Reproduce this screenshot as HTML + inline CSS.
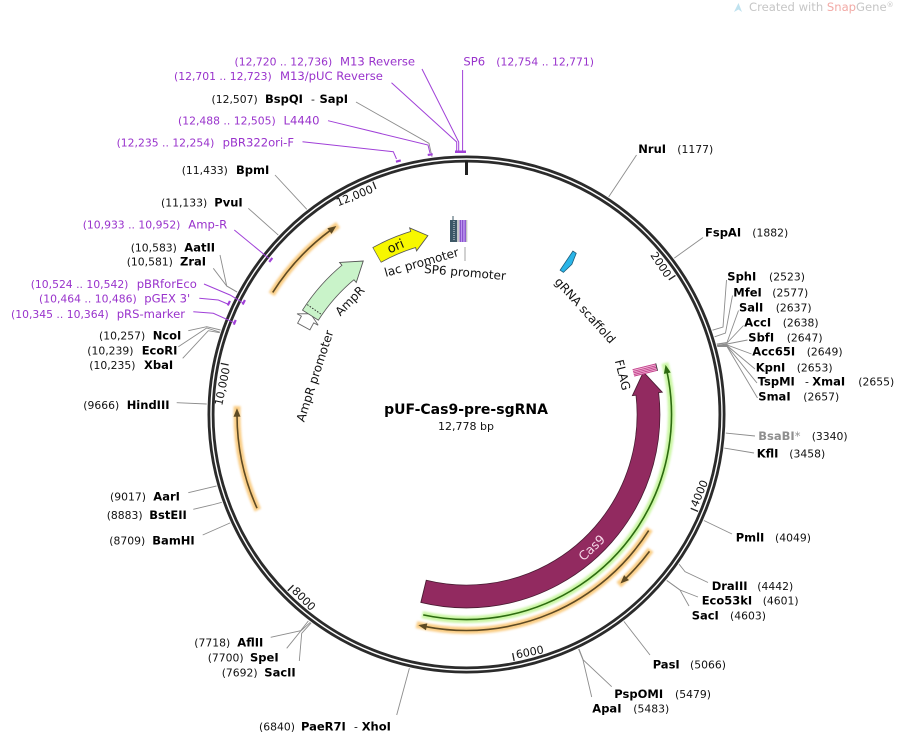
<!DOCTYPE html>
<html><head><meta charset="utf-8">
<style>
html,body{margin:0;padding:0;background:#fff;}
svg{display:block;font-family:"DejaVu Sans","Liberation Sans",sans-serif;}
.n{font-size:10.8px;fill:#111;}
.e{font-size:11.5px;font-weight:bold;fill:#000;}
.pn{font-size:10.8px;fill:#9933cc;}
.pe{font-size:11.6px;fill:#9933cc;}
.l{stroke:#8c8c8c;stroke-width:0.9;fill:none;}
.pl{stroke:#a040d8;stroke-width:1;fill:none;}
.f{font-size:12px;fill:#111;}
.tk{font-size:11px;fill:#111;}
.arc{fill:none;}
</style></head><body>
<svg width="899" height="735" viewBox="0 0 899 735" xmlns="http://www.w3.org/2000/svg">
<defs>
<filter id="bl" x="-20%" y="-20%" width="140%" height="140%"><feGaussianBlur stdDeviation="1"/></filter>
</defs>

<!-- watermark -->
<polygon points="734,12 738.5,3 742,12 738.5,9.5" fill="#bfe2ef"/>
<text x="749" y="11" font-size="11.6" fill="#c6c6c6">Created with <tspan fill="#f2aaa6">Snap</tspan>Gene<tspan font-size="7" dy="-4">®</tspan></text>

<!-- backbone -->
<circle cx="466.5" cy="414.5" r="257.6" fill="none" stroke="#2b2b2b" stroke-width="2.8"/>
<circle cx="466.5" cy="414.5" r="253.4" fill="none" stroke="#2b2b2b" stroke-width="2.8"/>
<rect x="465" y="161" width="3" height="14" fill="#222"/>

<!-- ticks -->
<g stroke="#222" stroke-width="1.3">
<line x1="466.5" y1="163.5" x2="466.5" y2="171.5" transform="rotate(56.35 466.5 414.5)"/>
<line x1="466.5" y1="163.5" x2="466.5" y2="171.5" transform="rotate(112.7 466.5 414.5)"/>
<line x1="466.5" y1="163.5" x2="466.5" y2="171.5" transform="rotate(169.05 466.5 414.5)"/>
<line x1="466.5" y1="163.5" x2="466.5" y2="171.5" transform="rotate(225.4 466.5 414.5)"/>
<line x1="466.5" y1="163.5" x2="466.5" y2="171.5" transform="rotate(281.75 466.5 414.5)"/>
<line x1="466.5" y1="163.5" x2="466.5" y2="171.5" transform="rotate(338.1 466.5 414.5)"/>
</g>
<text class="tk" x="463.5" y="173.5" text-anchor="end" transform="rotate(56.35 466.5 414.5)">2000</text>
<text class="tk" x="469.5" y="663.5" text-anchor="start" transform="rotate(-67.3 466.5 414.5)">4000</text>
<text class="tk" x="469.5" y="663.5" text-anchor="start" transform="rotate(-10.95 466.5 414.5)">6000</text>
<text class="tk" x="469.5" y="663.5" text-anchor="start" transform="rotate(45.4 466.5 414.5)">8000</text>
<text class="tk" x="463.5" y="173.5" text-anchor="end" transform="rotate(281.75 466.5 414.5)">10,000</text>
<text class="tk" x="463.5" y="173.5" text-anchor="end" transform="rotate(338.1 466.5 414.5)">12,000</text>

<!-- orange arcs -->
<g filter="url(#bl)" opacity="0.9">
<circle class="arc" cx="466.5" cy="414.5" r="229" stroke="#f9c878" stroke-width="7" pathLength="360" stroke-dasharray="24.2 400" transform="rotate(211.7 466.5 414.5)"/>
<circle class="arc" cx="466.5" cy="414.5" r="229.5" stroke="#f9c878" stroke-width="7" pathLength="360" stroke-dasharray="26.7 400" transform="rotate(155.4 466.5 414.5)"/>
<circle class="arc" cx="466.5" cy="414.5" r="228.5" stroke="#f9c878" stroke-width="7" pathLength="360" stroke-dasharray="11.9 400" transform="rotate(36.3 466.5 414.5)"/>
<circle class="arc" cx="466.5" cy="414.5" r="216" stroke="#f9c878" stroke-width="7" pathLength="360" stroke-dasharray="71.4 400" transform="rotate(32 466.5 414.5)"/>
<circle class="arc" cx="466.5" cy="414.5" r="205" stroke="#c4f59a" stroke-width="7" pathLength="360" stroke-dasharray="117 400" transform="rotate(-14.5 466.5 414.5)"/>
</g>
<g stroke-width="1.6">
<circle class="arc" cx="466.5" cy="414.5" r="229" stroke="#5e4a23" pathLength="360" stroke-dasharray="21.4 400" transform="rotate(212.2 466.5 414.5)"/>
<circle class="arc" cx="466.5" cy="414.5" r="229.5" stroke="#5e4a23" pathLength="360" stroke-dasharray="23.9 400" transform="rotate(155.9 466.5 414.5)"/>
<circle class="arc" cx="466.5" cy="414.5" r="228.5" stroke="#5e4a23" pathLength="360" stroke-dasharray="9.1 400" transform="rotate(36.8 466.5 414.5)"/>
<circle class="arc" cx="466.5" cy="414.5" r="216" stroke="#5e4a23" pathLength="360" stroke-dasharray="68.5 400" transform="rotate(32.5 466.5 414.5)"/>
<circle class="arc" cx="466.5" cy="414.5" r="205" stroke="#2d6b10" pathLength="360" stroke-dasharray="114.2 400" transform="rotate(-12 466.5 414.5)"/>
</g>
<g fill="#5e4a23">
<polygon points="465.5,182 474,185.5 465.5,189" transform="rotate(323.5 466.5 414.5)"/>
<polygon points="465.5,181.5 474,185 465.5,188.5" transform="rotate(269.7 466.5 414.5)"/>
<polygon points="465.5,182.5 474,186 465.5,189.5" transform="rotate(135.8 466.5 414.5)"/>
<polygon points="465.5,195 474,198.5 465.5,202" transform="rotate(190.9 466.5 414.5)"/>
</g>
<polygon points="467.5,206 459,209.5 467.5,213" fill="#2d6b10" transform="rotate(78.1 466.5 414.5)"/>

<!-- Cas9 -->
<circle class="arc" cx="466.5" cy="414.5" r="182" stroke="#4a1c33" stroke-width="23.6" pathLength="360" stroke-dasharray="110.5 400" transform="rotate(-6.7 466.5 414.5)"/>
<polygon points="466.5,217.5 444.3,233.9 466.5,247.5" fill="#922a60" stroke="#4a1c33" stroke-width="0.9" transform="rotate(83.5 466.5 414.5)"/>
<circle class="arc" cx="466.5" cy="414.5" r="182" stroke="#922a60" stroke-width="22" pathLength="360" stroke-dasharray="110.8 400" transform="rotate(-7.3 466.5 414.5)"/>
<text x="592" y="552" font-size="12.5" fill="#f6d8e8" text-anchor="middle" transform="rotate(-43.2 592 548)">Cas9</text>

<!-- FLAG -->
<g transform="rotate(76 466.5 414.5)">
<rect x="462.7" y="218.5" width="7.6" height="24" fill="#f3bcd9"/>
<g stroke="#c2408c" stroke-width="0.9">
<line x1="463.2" y1="218.5" x2="463.2" y2="242.5"/>
<line x1="465" y1="218.5" x2="465" y2="242.5"/>
<line x1="466.6" y1="218.5" x2="466.6" y2="242.5"/>
<line x1="468.2" y1="218.5" x2="468.2" y2="242.5"/>
<line x1="469.8" y1="218.5" x2="469.8" y2="242.5"/>
</g>
<line x1="462.7" y1="218.5" x2="470.3" y2="218.5" stroke="#333" stroke-width="0.8"/>
</g>
<text class="f" text-anchor="middle" y="4" transform="translate(622.5 375) rotate(75.7)">FLAG</text>

<!-- AmpR promoter -->
<polygon points="466.5,222.5 474.5,222.5 474.5,217.5 481,229.5 474.5,241.5 474.5,236.5 466.5,236.5" fill="#fff" stroke="#666" stroke-width="0.9" transform="rotate(298.4 466.5 414.5)"/>
<!-- AmpR -->
<circle class="arc" cx="466.5" cy="414.5" r="185" stroke="#555" stroke-width="19.6" pathLength="360" stroke-dasharray="18.2 400" transform="rotate(212.35 466.5 414.5)"/>
<polygon points="466,216.5 485.1,230.45 466,242.5" fill="#c9f3c9" stroke="#555" stroke-width="0.9" transform="rotate(320.3 466.5 414.5)"/>
<circle class="arc" cx="466.5" cy="414.5" r="185" stroke="#c9f3c9" stroke-width="18" pathLength="360" stroke-dasharray="18.4 400" transform="rotate(212.6 466.5 414.5)"/>
<line x1="466.5" y1="221" x2="466.5" y2="238" stroke="#333" stroke-width="1" stroke-dasharray="1.5 1.5" transform="rotate(304.6 466.5 414.5)"/>
<text class="f" text-anchor="middle" y="4" transform="translate(350 301) rotate(-46)">AmpR</text>
<text class="f" text-anchor="middle" y="4" transform="translate(315 376) rotate(-72)">AmpR promoter</text>

<!-- ori -->
<circle class="arc" cx="466.5" cy="414.5" r="183" stroke="#555" stroke-width="17.6" pathLength="360" stroke-dasharray="12.9 400" transform="rotate(240.6 466.5 414.5)"/>
<polygon points="466,219.5 481.2,232.1 466,243.5" fill="#f7f700" stroke="#555" stroke-width="0.9" transform="rotate(343.2 466.5 414.5)"/>
<circle class="arc" cx="466.5" cy="414.5" r="183" stroke="#f7f700" stroke-width="16" pathLength="360" stroke-dasharray="13 400" transform="rotate(240.8 466.5 414.5)"/>
<text x="0" y="4.5" font-size="13" fill="#111" text-anchor="middle" transform="translate(395.5 246) rotate(-23)">ori</text>

<!-- lac / SP6 promoter features -->
<rect x="450" y="220" width="7" height="22" fill="#3d5866"/>
<line x1="454" y1="221" x2="454" y2="241" stroke="#fff" stroke-width="0.8" stroke-dasharray="1 1"/>
<line x1="453" y1="216" x2="453" y2="220" stroke="#3d5866" stroke-width="1"/>
<rect x="457" y="220" width="2.5" height="22" fill="#c8c8c8"/>
<rect x="459.5" y="220" width="6.5" height="22" fill="#bb95f0"/>
<g stroke="#7a3fc0" stroke-width="0.9">
<line x1="460.3" y1="220" x2="460.3" y2="242"/>
<line x1="462.7" y1="220" x2="462.7" y2="242"/>
<line x1="465.2" y1="220" x2="465.2" y2="242"/>
</g>
<line x1="466.8" y1="220" x2="466.8" y2="242" stroke="#999" stroke-width="0.8"/>
<line x1="465" y1="247" x2="465" y2="261" stroke="#999" stroke-width="0.9"/>
<text class="f" text-anchor="middle" y="4" transform="translate(421.5 262.5) rotate(-16)">lac promoter</text>
<text class="f" text-anchor="middle" y="4" transform="translate(465 272.5) rotate(5)">SP6 promoter</text>

<!-- gRNA scaffold -->
<polygon points="464,219.5 468,219.5 470.5,231 468,242.5 464,242.5" fill="#2ab5e8" stroke="#1f5d7a" stroke-width="0.8" transform="rotate(33.8 466.5 414.5)"/>
<text class="f" text-anchor="middle" y="4" transform="translate(585 310.5) rotate(48)">gRNA scaffold</text>

<!-- title -->
<text x="466" y="414" font-size="14" font-weight="bold" text-anchor="middle" fill="#000">pUF-Cas9-pre-sgRNA</text>
<text x="466" y="430" font-size="11" text-anchor="middle" fill="#111">12,778 bp</text>

<!-- enzyme leader lines -->
<g class="l">
<polyline points="608.7,196.9 636.5,155"/>
<polyline points="674.3,258.1 703,237.5"/>
<polyline points="712.5,330.2 723,327 726.5,280"/>
<polyline points="714.6,336.8 725.5,333 732.5,295.5"/>
<polyline points="716.8,344.1 727,342.5 738.5,310.5"/>
<polyline points="716.8,344.2 727,343 743.5,325.5"/>
<polyline points="717,345.3 727,344 747.5,340"/>
<polyline points="717,345.6 727,345 751.5,354"/>
<polyline points="717.3,346 727,345.5 755,369"/>
<polyline points="717.4,346.3 727,346 757,383"/>
<polyline points="717.4,346.6 727,346.5 757.5,398"/>
<polyline points="725.8,433.1 755,436"/>
<polyline points="724.3,448.1 754,453"/>
<polyline points="703.9,520.5 732,534"/>
<polyline points="679.1,564.2 685,571.7 708,582.5"/>
<polyline points="666.7,580.4 680,590 698,597"/>
<polyline points="666.9,580.6 680,590 689,606"/>
<polyline points="623.9,621.4 650,655"/>
<polyline points="579,648.9 583.3,660 611.7,686.7"/>
<polyline points="578.6,649.1 583,660 591.7,697"/>
<polyline points="409.4,668.1 396.7,715"/>
<polyline points="308.4,620.9 300.7,630.7 270.7,637.3"/>
<polyline points="310.3,622.3 300.7,631 286.7,648.3"/>
<polyline points="311.1,622.9 301.7,633.3 299.3,661"/>
<polyline points="230.2,522.9 202.7,535"/>
<polyline points="221.8,502.3 211.7,505 193.3,509.3"/>
<polyline points="216.5,486 206.7,488.3 188.3,492.7"/>
<polyline points="206.7,404 176.7,402.7"/>
<polyline points="220.6,330 206.7,326.7 188.3,330.7"/>
<polyline points="219.9,332.2 206.7,328 178.3,346.7"/>
<polyline points="219.7,332.7 208.3,330.7 182.7,358.3"/>
<polyline points="237,291.9 226.7,286 220,255"/>
<polyline points="237.1,292.1 226.7,286 213.3,268.3"/>
<polyline points="278.3,235.1 248.3,208.3"/>
<polyline points="306.8,209.3 275,175"/>
<polyline points="432,156.8 429,143.3 356,102"/>
</g>

<!-- primer leader lines -->
<g class="pl">
<polyline points="422,69 458.7,142 458.7,151"/>
<polyline points="391.5,82.7 456.7,142 456.7,151"/>
<polyline points="462.6,70 462.6,151"/>
<polyline points="328,120.7 428,145 430,153"/>
<polyline points="302.5,141.7 393.3,151.7 396.5,159"/>
<polyline points="234.3,230 269,258.5"/>
<polyline points="204,284 230,295 242.7,302.7"/>
<polyline points="199.3,298.3 218.3,300 227.7,304"/>
<polyline points="193.3,311.7 213.3,313.3 234.3,322.7"/>
</g>
<g fill="#a040d8">
<rect x="455" y="150.5" width="11" height="2.5"/>
<rect x="464" y="151" width="5" height="2.2" transform="rotate(352.05 466.5 414.5)"/>
<rect x="464" y="151" width="5" height="2.2" transform="rotate(344.95 466.5 414.5)"/>
<rect x="464" y="164" width="5" height="2.2" transform="rotate(308.3 466.5 414.5)"/>
<rect x="464" y="164" width="5" height="2.2" transform="rotate(296.75 466.5 414.5)"/>
<rect x="464" y="151" width="5" height="2.2" transform="rotate(295.1 466.5 414.5)"/>
<rect x="464" y="164" width="5" height="2.2" transform="rotate(291.7 466.5 414.5)"/>
</g>

<!-- left labels -->
<text class="pn" x="234.5" y="65.7">(12,720 .. 12,736)</text><text class="pe" x="340" y="65.7">M13 Reverse</text>
<text class="pe" x="463.4" y="65.7">SP6</text><text class="pn" x="496.3" y="65.7">(12,754 .. 12,771)</text>
<text class="pn" x="174" y="80">(12,701 .. 12,723)</text><text class="pe" x="280" y="80">M13/pUC Reverse</text>
<text class="n" x="211.5" y="103">(12,507)</text><text class="e" x="265" y="103">BspQI</text><text class="n" x="311" y="103">-</text><text class="e" x="319.5" y="103">SapI</text>
<text class="pn" x="178" y="124.7">(12,488 .. 12,505)</text><text class="pe" x="283.5" y="124.7">L4440</text>
<text class="pn" x="116.6" y="146.7">(12,235 .. 12,254)</text><text class="pe" x="222.6" y="146.7">pBR322ori-F</text>
<text class="n" x="181.7" y="174">(11,433)</text><text class="e" x="236" y="174">BpmI</text>
<text class="n" x="161" y="206.7">(11,133)</text><text class="e" x="214.3" y="206.7">PvuI</text>
<text class="pn" x="82.7" y="228.3">(10,933 .. 10,952)</text><text class="pe" x="188.3" y="228.3">Amp-R</text>
<text class="n" x="130.7" y="251.3">(10,583)</text><text class="e" x="184.3" y="251.3">AatII</text>
<text class="n" x="126.7" y="265.7">(10,581)</text><text class="e" x="180" y="265.7">ZraI</text>
<text class="pn" x="30.7" y="288">(10,524 .. 10,542)</text><text class="pe" x="136.7" y="288">pBRforEco</text>
<text class="pn" x="39" y="302.3">(10,464 .. 10,486)</text><text class="pe" x="144.3" y="302.3">pGEX 3'</text>
<text class="pn" x="11" y="318">(10,345 .. 10,364)</text><text class="pe" x="116.7" y="318">pRS-marker</text>
<text class="n" x="99" y="339.7">(10,257)</text><text class="e" x="152.7" y="339.7">NcoI</text>
<text class="n" x="87.3" y="354.7">(10,239)</text><text class="e" x="141.7" y="354.7">EcoRI</text>
<text class="n" x="89.3" y="369">(10,235)</text><text class="e" x="144" y="369">XbaI</text>
<text class="n" x="83.3" y="409">(9666)</text><text class="e" x="126.7" y="409">HindIII</text>
<text class="n" x="110" y="500.7">(9017)</text><text class="e" x="153.3" y="500.7">AarI</text>
<text class="n" x="106.7" y="519">(8883)</text><text class="e" x="149.3" y="519">BstEII</text>
<text class="n" x="109.3" y="544.7">(8709)</text><text class="e" x="152.3" y="544.7">BamHI</text>
<text class="n" x="194.3" y="646.7">(7718)</text><text class="e" x="237.3" y="646.7">AflII</text>
<text class="n" x="207.7" y="661.3">(7700)</text><text class="e" x="250" y="661.3">SpeI</text>
<text class="n" x="221.7" y="676.7">(7692)</text><text class="e" x="264.3" y="676.7">SacII</text>
<text class="n" x="259" y="730.7">(6840)</text><text class="e" x="301" y="730.7">PaeR7I</text><text class="n" x="354" y="730.7">-</text><text class="e" x="361.7" y="730.7">XhoI</text>

<!-- right labels -->
<text class="e" x="638.3" y="153">NruI</text><text class="n" x="677.3" y="153">(1177)</text>
<text class="e" x="705" y="236.7">FspAI</text><text class="n" x="752.3" y="236.7">(1882)</text>
<text class="e" x="727.3" y="280.7">SphI</text><text class="n" x="769" y="280.7">(2523)</text>
<text class="e" x="733.3" y="296.3">MfeI</text><text class="n" x="772.3" y="296.3">(2577)</text>
<text class="e" x="739" y="311.3">SalI</text><text class="n" x="775.7" y="311.3">(2637)</text>
<text class="e" x="744.3" y="326.3">AccI</text><text class="n" x="782.7" y="326.3">(2638)</text>
<text class="e" x="748.3" y="341.3">SbfI</text><text class="n" x="786.7" y="341.3">(2647)</text>
<text class="e" x="752.3" y="355.7">Acc65I</text><text class="n" x="806.7" y="355.7">(2649)</text>
<text class="e" x="755.7" y="371.3">KpnI</text><text class="n" x="796.7" y="371.3">(2653)</text>
<text class="e" x="757.7" y="385.7">TspMI</text><text class="n" x="805" y="385.7">-</text><text class="e" x="812.3" y="385.7">XmaI</text><text class="n" x="858.3" y="385.7">(2655)</text>
<text class="e" x="758.3" y="400.7">SmaI</text><text class="n" x="803.3" y="400.7">(2657)</text>
<text class="e" x="758.3" y="440" style="fill:#8f8f8f">BsaBI<tspan font-weight="normal">*</tspan></text><text class="n" x="811.7" y="440">(3340)</text>
<text class="e" x="756.7" y="457.3">KflI</text><text class="n" x="789.3" y="457.3">(3458)</text>
<text class="e" x="735.7" y="541.7">PmlI</text><text class="n" x="775" y="541.7">(4049)</text>
<text class="e" x="711.7" y="590">DraIII</text><text class="n" x="757.3" y="590">(4442)</text>
<text class="e" x="701.7" y="604.7">Eco53kI</text><text class="n" x="762.7" y="604.7">(4601)</text>
<text class="e" x="691.7" y="619.7">SacI</text><text class="n" x="730" y="619.7">(4603)</text>
<text class="e" x="652.7" y="668.7">PasI</text><text class="n" x="690" y="668.7">(5066)</text>
<text class="e" x="614.3" y="698">PspOMI</text><text class="n" x="675" y="698">(5479)</text>
<text class="e" x="592.3" y="712.7">ApaI</text><text class="n" x="633.3" y="712.7">(5483)</text>
</svg>
</body></html>
